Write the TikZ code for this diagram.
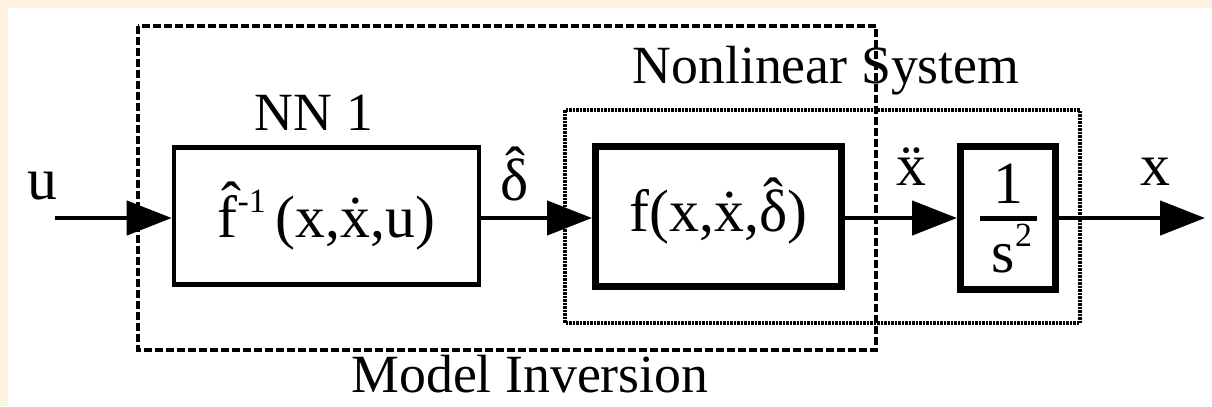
\documentclass[tikz,border=0pt]{standalone}
\usepackage{fontspec}
\setmainfont{Liberation Serif}
\usetikzlibrary{arrows.meta}
\definecolor{cream}{HTML}{FFF3E0}
\newcommand\deltahat{\ooalign{δ\cr\hidewidth\raisebox{0.2em}{ˆ}\hidewidth\cr}}
\newcommand\smallsup[1]{\raisebox{0.42em}{\fontsize{34}{34}\selectfont #1}}
\begin{document}
\begin{tikzpicture}[x=1bp,y=-1bp,
  blk/.style={draw,line width=4.5bp,inner sep=0,font=\fontsize{60}{62}\selectfont},
  heavyblk/.style={draw,line width=7bp,inner sep=0,font=\fontsize{60}{62}\selectfont},
  sig/.style={line width=4.5bp,-{Triangle[length=45bp,width=34bp]}},
  txt/.style={font=\fontsize{54}{60}\selectfont,inner sep=0,anchor=base},
  sym/.style={font=\fontsize{60}{62}\selectfont,inner sep=0,anchor=base},
  invbox/.style={line width=4.5bp,dash pattern=on 8bp off 3bp},
  sysbox/.style={line width=4bp,dash pattern=on 2.5bp off 1bp},
]
\useasboundingbox (0,0) rectangle (1212,406);
\fill[white] (0,0) rectangle (1212,406);
\fill[cream] (0,0) rectangle (1212,8);
\fill[cream] (0,0) rectangle (8,406);

% group frames
\draw[invbox] (138,26) rectangle (876,350);
\draw[sysbox] (565,110) rectangle (1080,323);

% blocks
\node[blk,minimum width=305bp,minimum height=137bp] (nn) at (326.5,216) {\^{f}\smallsup{-1}\,(x,\.{x},u)};
\node[heavyblk,minimum width=246bp,minimum height=140bp] (f) at (718.5,216.5) {f(x,\.{x},\deltahat)};
\node[heavyblk,minimum width=95bp,minimum height=143bp] (int) at (1008,218) {\phantom{1}};

% contents of 1/s^2
\node[sym] (one) at (1008,203) {1};
\draw[line width=5bp] (980,218) -- (1037,218);
\node[sym] (s2) at (1012,272) {s\smallsup{2}};

% signal coordinates
\coordinate (in) at (55,218);
\coordinate (out) at (1205,218);

% connectors
\draw[sig] (in) -- (nn.west |- in);
\draw[sig] (nn.east |- in) -- (f.west |- in);
\draw[sig] (f.east |- in) -- (int.west |- in);
\draw[sig] (int.east |- in) -- (out);

% signal labels
\node[sym] (lu) at (42,199) {u};
\node[sym] (ld) at (515,200) {\deltahat};
\node[sym] (lxdd) at (911,185) {\"{x}};
\node[sym] (lx) at (1155,185) {x};

% group labels
\node[txt] (lnn) at (314,130) {NN 1};
\node[txt] (lsys) at (826,83) {Nonlinear System};
\node[txt] (linv) at (530,392) {Model Inversion};
\end{tikzpicture}
\end{document}
